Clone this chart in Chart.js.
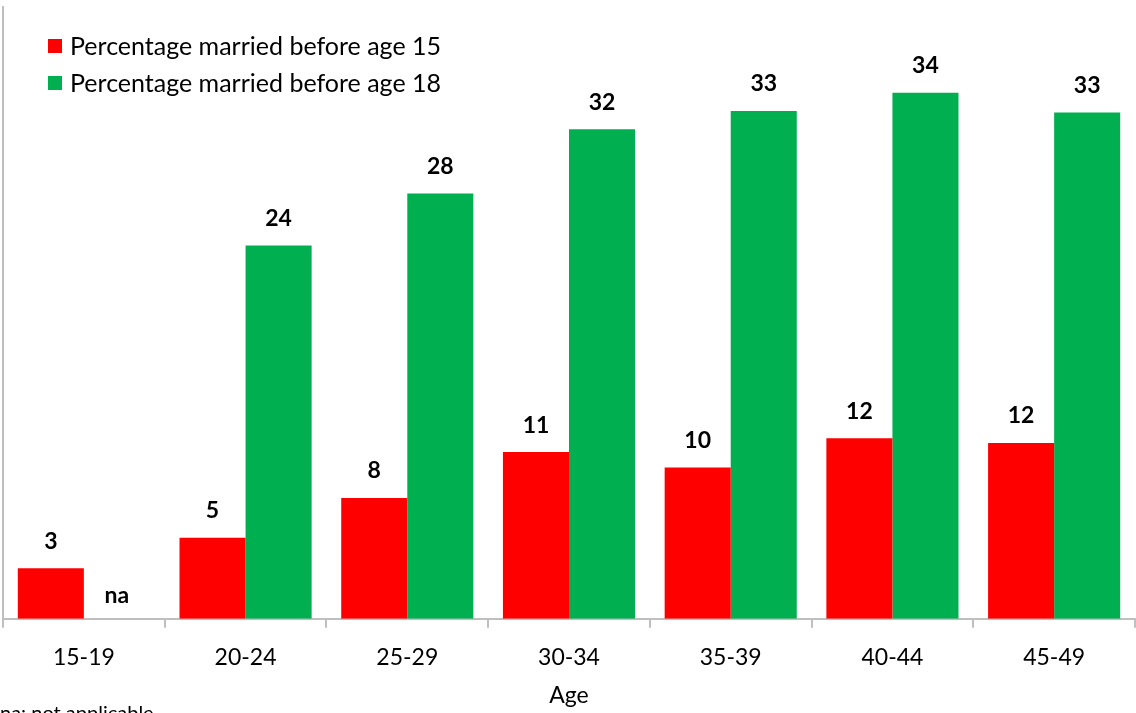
<!DOCTYPE html>
<html>
<head>
<meta charset="utf-8">
<script src="https://cdn.jsdelivr.net/npm/chart.js@4/dist/chart.umd.min.js"></script>
<style>
  html, body { margin: 0; padding: 0; background: #fff; overflow: hidden; }
  #wrap { position: relative; width: 1136px; height: 713px; overflow: hidden; }
  #note { position: absolute; left: 0; top: 700px; font: 20px Lato, sans-serif; color: #000; white-space: nowrap; }
</style>
</head>
<body>
<div id="wrap">
  <canvas id="chart" width="1136" height="713"></canvas>
  <div id="note">na: not applicable</div>
</div>
<script>
const ageGroups = ["15-19", "20-24", "25-29", "30-34", "35-39", "40-44", "45-49"];
const before15 = [3.3, 5.3, 7.9, 10.9, 9.9, 11.8, 11.5];
const before18 = [null, 24.4, 27.8, 32.0, 33.2, 34.4, 33.1];
const seriesNames = ["Percentage married before age 15", "Percentage married before age 18"];

const FONT = "Lato, 'Noto Sans', sans-serif";

// value labels above bars, "na" where there is no value
const barLabels = {
  id: "barLabels",
  afterDatasetsDraw(chart) {
    const { ctx } = chart;
    const y0 = chart.scales.y.getPixelForValue(0);
    ctx.save();
    ctx.font = "bold 23px " + FONT;
    ctx.fillStyle = "#000";
    ctx.textAlign = "center";
    ctx.textBaseline = "middle";
    chart.data.datasets.forEach((ds, i) => {
      chart.getDatasetMeta(i).data.forEach((bar, j) => {
        const v = ds.data[j];
        if (v == null) {
          ctx.fillText("na", bar.x, y0 - 23);
        } else {
          ctx.fillText(Math.round(v), bar.x, bar.y - 27);
        }
      });
    });
    ctx.restore();
  }
};

// legend drawn inside the plot area, top left
const insideLegend = {
  id: "insideLegend",
  afterDraw(chart) {
    const { ctx } = chart;
    ctx.save();
    ctx.font = "25px " + FONT;
    ctx.textBaseline = "middle";
    chart.data.datasets.forEach((ds, i) => {
      const y = 46 + i * 37;
      ctx.fillStyle = ds.backgroundColor;
      ctx.fillRect(48, y - 7, 14, 14);
      ctx.fillStyle = "#000";
      ctx.fillText(ds.label, 70, y + 1);
    });
    ctx.restore();
  }
};

new Chart(document.getElementById("chart"), {
  type: "bar",
  data: {
    labels: ageGroups,
    datasets: [
      { label: seriesNames[0], data: before15, backgroundColor: "#ff0000" },
      { label: seriesNames[1], data: before18, backgroundColor: "#00b050" }
    ]
  },
  options: {
    responsive: false,
    animation: false,
    layout: { padding: { left: 3, right: 1, top: 7, bottom: 4 } },
    datasets: { bar: { barPercentage: 1, categoryPercentage: 0.817 } },
    plugins: { legend: { display: false }, tooltip: { enabled: false } },
    scales: {
      x: {
        grid: { drawOnChartArea: false, drawTicks: true, tickLength: 9, color: "#bfbfbf", lineWidth: 2 },
        border: { color: "#bfbfbf", width: 2 },
        ticks: { color: "#000", font: { size: 23, family: FONT }, padding: 16, maxRotation: 0 },
        title: { display: true, text: "Age", color: "#000", font: { size: 23, family: FONT }, padding: { top: -6, bottom: 0 } }
      },
      y: {
        min: 0,
        max: 40,
        grid: { display: false, drawTicks: false },
        border: { color: "#bfbfbf", width: 2 },
        ticks: { display: false }
      }
    }
  },
  plugins: [barLabels, insideLegend]
});
</script>
</body>
</html>
